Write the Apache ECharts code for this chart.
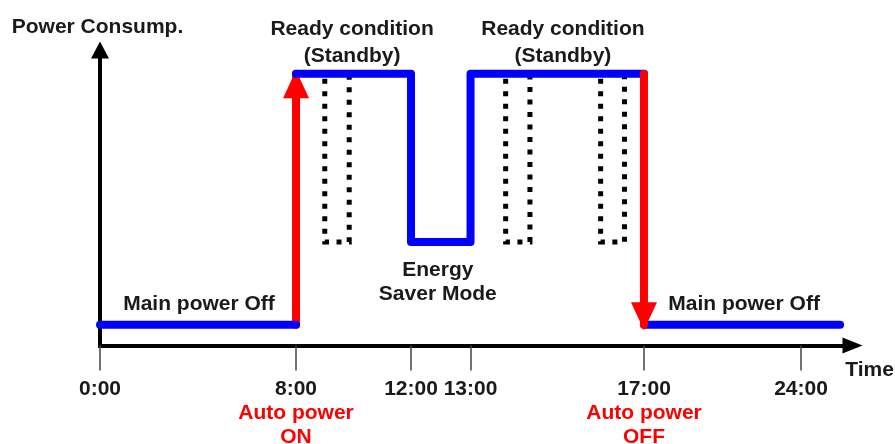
<!DOCTYPE html>
<html>
<head>
<meta charset="utf-8">
<script src="https://cdn.jsdelivr.net/npm/echarts@6/dist/echarts.min.js"></script>
<style>
  html, body { margin: 0; padding: 0; background: #ffffff; }
  #chart { width: 895px; height: 444px; }
</style>
</head>
<body>
<div id="chart"></div>
<script>
// Clock times marked on the time axis
const tickHours = [0, 8, 12, 13, 17, 24];
const tickLabels = ['0:00', '8:00', '12:00', '13:00', '17:00', '24:00'];
const tickNotes = ['', 'Auto power\nON', '', '', 'Auto power\nOFF', ''];

// Power levels (relative units)
const levelOff = 7;
const levelSaver = 35;
const levelReady = 92;

// Power profile over the day, [hour, level]
const mainOffMorning = [[0, levelOff], [8, levelOff]];
const activeDay = [[8, levelReady], [12, levelReady], [12, levelSaver], [13, levelSaver], [13, levelReady], [17, levelReady]];
const mainOffEvening = [[17, levelOff], [25.74, levelOff]];
const autoPowerOn = [[8, levelOff], [8, levelReady]];
const autoPowerOff = [[17, levelReady], [17, levelOff]];

// Print job bursts during standby, [start hour, end hour]
const jobBursts = [[9.0, 9.85], [13.81, 14.37], [16.0, 16.55]];

// Text notes, [hour, level, text, line height]
const notes = [
  [9.95, 102.4, 'Ready condition\n(Standby)', 27],
  [15.13, 102.4, 'Ready condition\n(Standby)', 27],
  [12.45, 21.4, 'Energy\nSaver Mode', 24],
  [4.04, 14.0, 'Main power Off', 24],
  [21.46, 14.0, 'Main power Off', 24]
];

// The time axis is schematic: each marked clock time owns a fixed share (%) of the axis
const axisShare = [0, 26.05, 41.33, 49.24, 72.29, 93.16];

function toAxis(h) {
  const n = tickHours.length;
  let i = 0;
  while (i < n - 2 && h > tickHours[i + 1]) i++;
  const h0 = tickHours[i], h1 = tickHours[i + 1];
  const s0 = axisShare[i], s1 = axisShare[i + 1];
  return s0 + (h - h0) * (s1 - s0) / (h1 - h0);
}
const mapPts = pts => pts.map(p => [toAxis(p[0]), p[1]]);

const FONT = '"Liberation Sans", Arial, sans-serif';
const FS = 21;
const INK = '#1a1a1a';
const BLUE = '#0000ff';
const RED = '#ff0000';

const blueStyle = { color: BLUE, width: 8, cap: 'round', join: 'round' };
const redStyle = { color: RED, width: 8, cap: 'round', join: 'round' };

function profileSeries(pts, z) {
  return {
    type: 'line', data: mapPts(pts), symbol: 'none', z: z,
    lineStyle: blueStyle, silent: true, animation: false
  };
}

function arrowSeries(pts, rotate, offset, z) {
  const d = mapPts(pts);
  return {
    type: 'line', z: z, silent: true, animation: false, showAllSymbol: true,
    lineStyle: redStyle,
    itemStyle: { color: RED, borderWidth: 0, opacity: 1 },
    data: [
      { value: d[0], symbol: 'none' },
      { value: d[1], symbol: 'triangle', symbolSize: [26, 28], symbolRotate: rotate, symbolOffset: [0, offset] }
    ]
  };
}

const jobSeries = jobBursts.map(([a, b]) => ({
  type: 'line', z: 1, silent: true, animation: false, symbol: 'none',
  data: mapPts([[a, levelReady], [a, levelSaver], [b, levelSaver], [b, levelReady]]),
  lineStyle: { color: '#000000', width: 5, type: [5, 7.5], dashOffset: 7.3, cap: 'butt', join: 'miter' }
}));

const tickValues = tickHours.map(toAxis);

const chart = echarts.init(document.getElementById('chart'), null, { renderer: 'canvas' });
chart.setOption({
  backgroundColor: '#ffffff',
  animation: false,
  grid: { left: 100, right: 42.5, top: 50, bottom: 98.5, containLabel: false, outerBoundsMode: 'none' },
  xAxis: {
    type: 'value', min: 0, max: 100,
    name: 'Time', nameLocation: 'end', nameGap: 17,
    nameTextStyle: {
      fontFamily: FONT, fontWeight: 'bold', fontSize: FS, color: INK,
      align: 'center', verticalAlign: 'top', lineHeight: 21, padding: [14, 0, 0, 0]
    },
    axisLine: {
      show: true, symbol: ['none', 'triangle'], symbolSize: [16, 20],
      lineStyle: { color: '#000000', width: 4, cap: 'square' }
    },
    axisTick: {
      show: true, customValues: tickValues, length: 25, inside: false,
      lineStyle: { color: '#444444', width: 1.5 }
    },
    axisLabel: {
      show: true, customValues: tickValues, margin: 32,
      fontFamily: FONT, fontWeight: 'bold', fontSize: FS, color: INK, lineHeight: 24,
      formatter: function (v) {
        let idx = 0, best = Infinity;
        tickValues.forEach((t, i) => { if (Math.abs(t - v) < best) { best = Math.abs(t - v); idx = i; } });
        const note = tickNotes[idx];
        if (!note) return tickLabels[idx];
        return tickLabels[idx] + '\n' + note.split('\n').map(s => '{red|' + s + '}').join('\n');
      },
      rich: {
        red: { color: RED, fontFamily: FONT, fontWeight: 'bold', fontSize: FS, lineHeight: 24 }
      }
    },
    splitLine: { show: false }
  },
  yAxis: {
    type: 'value', min: 0, max: 100,
    name: 'Power Consump.', nameLocation: 'end', nameGap: 12,
    nameTextStyle: {
      fontFamily: FONT, fontWeight: 'bold', fontSize: FS, color: INK, lineHeight: 21,
      padding: [0, 5, 0, 0]
    },
    axisLine: {
      show: true, symbol: ['none', 'triangle'], symbolSize: [18, 17],
      lineStyle: { color: '#000000', width: 4, cap: 'square' }
    },
    axisTick: { show: false },
    axisLabel: { show: false },
    splitLine: { show: false }
  },
  series: [
    ...jobSeries,
    arrowSeries(autoPowerOn, 0, 10.5, 2),
    profileSeries(mainOffMorning, 3),
    profileSeries(activeDay, 3),
    profileSeries(mainOffEvening, 3),
    arrowSeries(autoPowerOff, 180, -8.5, 4),
    {
      type: 'scatter', z: 5, silent: true, animation: false, clip: false,
      symbolSize: 0,
      itemStyle: { opacity: 1 },
      data: notes.map(n => ({
        value: [toAxis(n[0]), n[1]], name: n[2],
        label: { lineHeight: n[3] }
      })),
      label: {
        show: true, position: 'inside', formatter: '{b}',
        fontFamily: FONT, fontWeight: 'bold', fontSize: FS, color: INK,
        align: 'center', verticalAlign: 'middle'
      }
    }
  ]
});
</script>
</body>
</html>
